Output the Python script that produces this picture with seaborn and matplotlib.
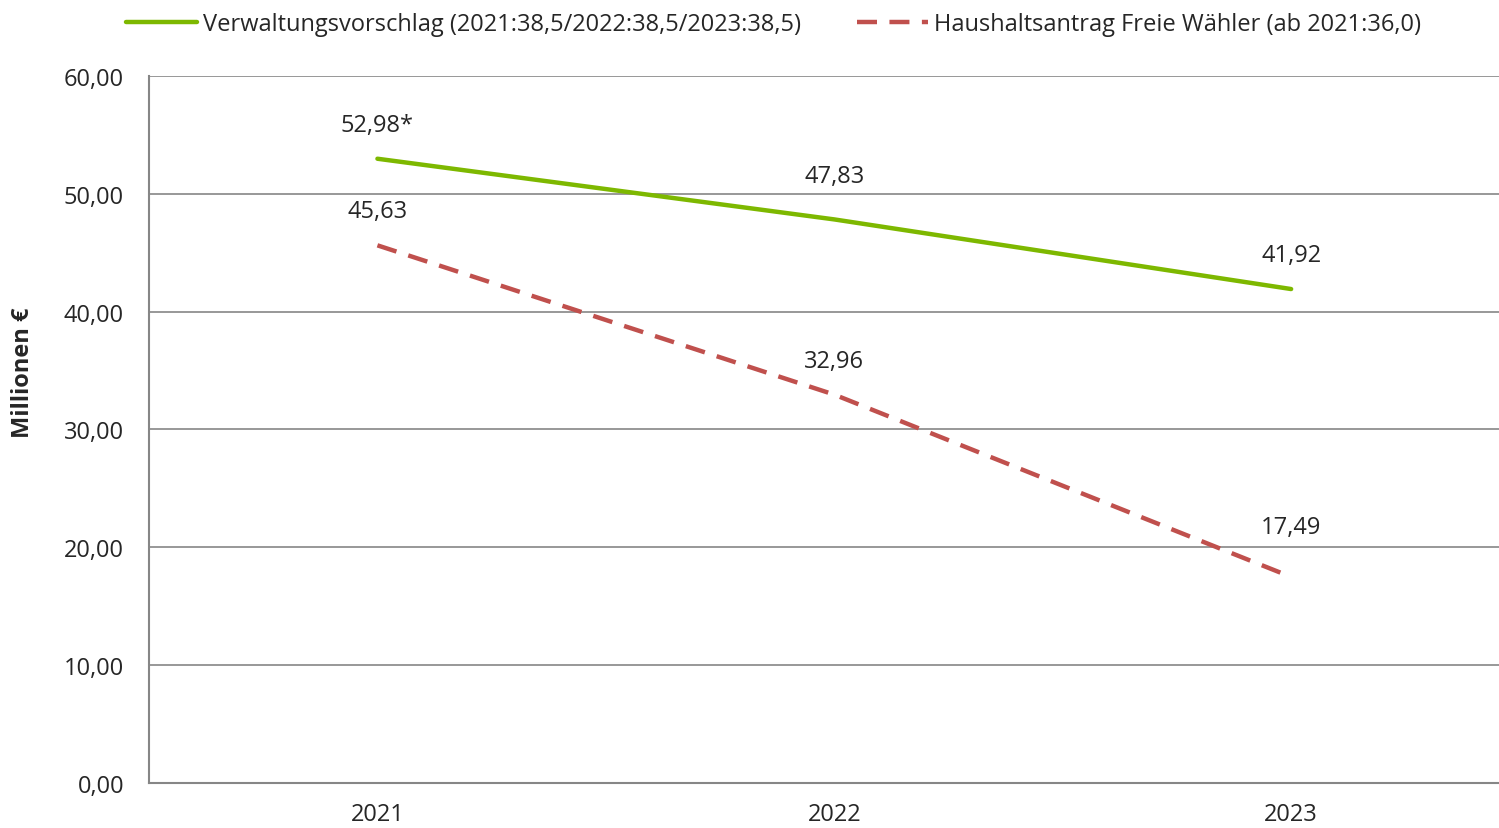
import pandas as pd
import matplotlib.pyplot as plt
import seaborn as sns

# Daten
jahre = ["2021", "2022", "2023"]
verwaltung = [52.98, 47.83, 41.92]
freie_waehler = [45.63, 32.96, 17.49]
label_verwaltung = ["52,98*", "47,83", "41,92"]
label_fw = ["45,63", "32,96", "17,49"]
serie_verwaltung = "Verwaltungsvorschlag (2021:38,5/2022:38,5/2023:38,5)"
serie_fw = "Haushaltsantrag Freie Wähler (ab 2021:36,0)"
y_ticks = [0, 10, 20, 30, 40, 50, 60]

df = pd.DataFrame({
    "pos": list(range(len(jahre))) * 2,
    "wert": verwaltung + freie_waehler,
    "serie": [serie_verwaltung] * 3 + [serie_fw] * 3,
})

sns.set_style("white")
plt.rcParams["font.family"] = ["Open Sans", "DejaVu Sans"]

fig = plt.figure(figsize=(14.99, 8.29), dpi=100)
ax = fig.add_axes([0.0994, 0.0543, 0.9006, 0.8528])

gruen = "#7db800"
rot = "#c0504d"
grau = "#868686"
fs = 17

sns.lineplot(data=df, x="pos", y="wert", hue="serie", style="serie",
             palette={serie_verwaltung: gruen, serie_fw: rot},
             dashes={serie_verwaltung: "", serie_fw: (4.5, 2.8)},
             linewidth=3.2, ax=ax, legend=True)

ax.set_xlim(-0.5, 2.455)
ax.set_ylim(0, 60)
ax.set_yticks(y_ticks)
ax.set_yticklabels([f"{v:.2f}".replace(".", ",") for v in y_ticks], fontsize=fs)
ax.set_xticks(range(len(jahre)))
ax.set_xticklabels(jahre, fontsize=fs)
ax.tick_params(axis="y", length=0, pad=18)
ax.tick_params(axis="x", length=0, pad=14)
ax.set_xlabel("")
ax.set_ylabel("Millionen €", fontsize=fs, fontweight="bold")
ax.yaxis.set_label_coords(-0.0844, 0.581)
ax.yaxis.grid(True, color=grau, linewidth=1.2)
for s in ["top", "right"]:
    ax.spines[s].set_visible(False)
for s in ["left", "bottom"]:
    ax.spines[s].set_color(grau)
    ax.spines[s].set_linewidth(1.5)

# Datenbeschriftungen
offs_v = [34, 43, 34]
offs_f = [34, 34, 50]
for i in range(len(jahre)):
    ax.annotate(label_verwaltung[i], (i, verwaltung[i]), xytext=(0, offs_v[i]),
                textcoords="offset pixels", ha="center", va="center", fontsize=fs)
    ax.annotate(label_fw[i], (i, freie_waehler[i]), xytext=(0, offs_f[i]),
                textcoords="offset pixels", ha="center", va="center", fontsize=fs)

handles, labels = ax.get_legend_handles_labels()
ax.get_legend().remove()
fig.legend(handles, labels, loc="upper center", bbox_to_anchor=(0.516, 1.01), ncol=2,
           frameon=False, fontsize=fs, handlelength=3.0, columnspacing=2.4, handletextpad=0.25)

fig.savefig("out.png", dpi=100)
